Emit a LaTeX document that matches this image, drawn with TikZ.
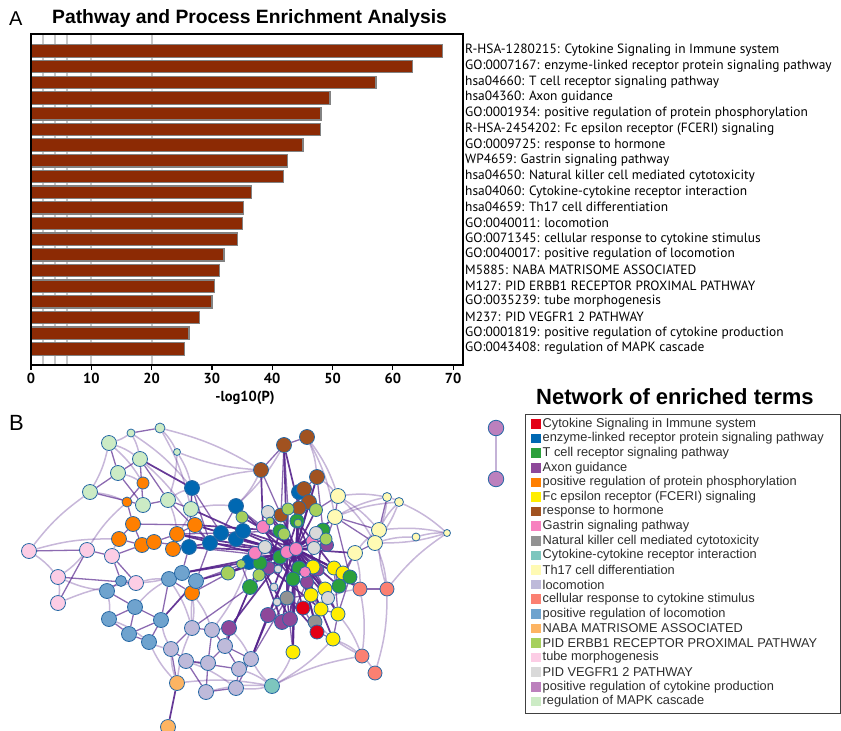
\documentclass[tikz,border=0pt]{standalone}
\usepackage{fontspec}
\setmainfont{Liberation Sans}
\newfontfamily\ptsans{PT Sans}
\pgfdeclarelayer{edgelayer}
\pgfsetlayers{edgelayer,main}
\definecolor{cRed}{RGB}{227,0,22}
\definecolor{cBlue}{RGB}{0,104,178}
\definecolor{cGreen}{RGB}{44,160,60}
\definecolor{cPurple}{RGB}{142,72,154}
\definecolor{cOrange}{RGB}{255,127,0}
\definecolor{cYellow}{RGB}{255,237,0}
\definecolor{cBrown}{RGB}{161,82,32}
\definecolor{cPink}{RGB}{247,129,191}
\definecolor{cGray}{RGB}{146,146,146}
\definecolor{cTeal}{RGB}{125,198,190}
\definecolor{cLYellow}{RGB}{255,250,180}
\definecolor{cLav}{RGB}{190,186,218}
\definecolor{cSalmon}{RGB}{251,128,114}
\definecolor{cSteel}{RGB}{111,163,206}
\definecolor{cLOrange}{RGB}{253,180,98}
\definecolor{cYG}{RGB}{166,208,92}
\definecolor{cLPink}{RGB}{252,205,229}
\definecolor{cLGray}{RGB}{217,217,217}
\definecolor{cMauve}{RGB}{188,128,189}
\definecolor{cLGreen}{RGB}{204,235,197}
\definecolor{nodeline}{RGB}{40,105,165}
\definecolor{edgec}{RGB}{85,35,140}
\definecolor{barfill}{RGB}{140,42,4}
\definecolor{bargray}{RGB}{130,130,130}
\definecolor{gridgray}{RGB}{200,200,200}
\definecolor{legtext}{RGB}{45,45,45}
\tikzset{
  nd/.style={circle, draw=nodeline, line width=0.8pt, inner sep=0pt},
  ewk/.style={draw=edgec, line width=1.5pt, opacity=0.33},
  emd/.style={draw=edgec, line width=1.3pt, opacity=0.68},
  est/.style={draw=edgec, line width=1.7pt, opacity=0.9},
  barsty/.style={fill=barfill, draw=bargray, line width=1.2pt},
  lab/.style={anchor=west, inner sep=0pt, font=\ptsans\fontsize{13.4}{15}\selectfont},
  ticklab/.style={inner sep=0pt, font=\ptsans\bfseries\fontsize{14.5}{16}\selectfont},
  lsq/.style={rectangle, inner sep=0pt, minimum width=10pt, minimum height=9.5pt},
  ltxt/.style={anchor=west, inner sep=0pt, text=legtext, font=\fontsize{12.8}{14}\selectfont},
}
\newcommand\mkcluster[2]{\foreach \n/\x/\y/\s in {#2} \node[nd, fill=#1, minimum size=\s*1pt] (\n) at (\x,\y) {};}
\newcommand\mkedges[2]{\foreach \a/\b in {#2} \draw[#1] (\a) -- (\b);}
\newcommand\mkcurves[2]{\foreach \a/\b in {#2} \draw[#1] (\a) to[bend left=8] (\b);}
\begin{document}
\begin{tikzpicture}[x=1pt,y=-1pt]
\useasboundingbox (0,0) rectangle (841,731);
% ---------------- Panel A ----------------
\node[anchor=west, inner sep=0pt, font=\fontsize{20}{22}\selectfont] (labA) at (9,19) {A};
\node[anchor=west, inner sep=0pt, font=\bfseries\fontsize{19.3}{22}\selectfont] (titleA) at (52,19) {Pathway and Process Enrichment Analysis};
% grid lines
\foreach \g in {2,4,6,10,20} \draw[gridgray, line width=1.8pt] ({31+\g*6.03},34) -- ({31+\g*6.03},365);
% bars
\foreach \v [count=\i] in {68.3,63.2,57.2,49.6,48.1,48.0,45.1,42.6,41.9,36.6,35.3,35.1,34.3,32.0,31.3,30.4,30.0,28.0,26.2,25.5}{
  \pgfmathsetmacro\yc{51+(\i-1)*15.68}
  \path[barsty] (31,{\yc-6.2}) rectangle ({31+\v*6.03},{\yc+6.2});
}
% frame
\draw[black, line width=1.4pt] (31,34) -- (463,34) -- (463,365) -- (31,365) -- cycle;
\foreach \v in {0,10,...,70}{
  \draw[black, line width=1.2pt] ({31+\v*6.03},365) -- ({31+\v*6.03},369.5);
  \node[ticklab] (tk\v) at ({31+\v*6.03},378) {\v};
}
\node[ticklab] (xlabel) at (245,398) {-log10(P)};
% labels
\foreach \t [count=\i] in {
 {R-HSA-1280215: Cytokine Signaling in Immune system},
 {GO:0007167: enzyme-linked receptor protein signaling pathway},
 {hsa04660: T cell receptor signaling pathway},
 {hsa04360: Axon guidance},
 {GO:0001934: positive regulation of protein phosphorylation},
 {R-HSA-2454202: Fc epsilon receptor (FCERI) signaling},
 {GO:0009725: response to hormone},
 {WP4659: Gastrin signaling pathway},
 {hsa04650: Natural killer cell mediated cytotoxicity},
 {hsa04060: Cytokine-cytokine receptor interaction},
 {hsa04659: Th17 cell differentiation},
 {GO:0040011: locomotion},
 {GO:0071345: cellular response to cytokine stimulus},
 {GO:0040017: positive regulation of locomotion},
 {M5885: NABA MATRISOME ASSOCIATED},
 {M127: PID ERBB1 RECEPTOR PROXIMAL PATHWAY},
 {GO:0035239: tube morphogenesis},
 {M237: PID VEGFR1 2 PATHWAY},
 {GO:0001819: positive regulation of cytokine production},
 {GO:0043408: regulation of MAPK cascade}}{
  \pgfmathsetmacro\yc{50.5+(\i-1)*15.68}
  \node[lab] (lab\i) at (465,\yc) {\t};
}
% ---------------- Panel B ----------------
\node[anchor=west, inner sep=0pt, font=\fontsize{22}{24}\selectfont] (labB) at (9,423) {B};
\node[anchor=west, inner sep=0pt, font=\bfseries\fontsize{22}{24}\selectfont] (titleB) at (536,397) {Network of enriched terms};
% legend box
\node[draw=black!75, line width=1.1pt, anchor=north west, inner sep=0pt, minimum width=315pt, minimum height=299pt] (legbox) at (524.5,413.5) {};
\foreach \c/\t [count=\i] in {
 cRed/Cytokine Signaling in Immune system,
 cBlue/enzyme-linked receptor protein signaling pathway,
 cGreen/T cell receptor signaling pathway,
 cPurple/Axon guidance,
 cOrange/positive regulation of protein phosphorylation,
 cYellow/Fc epsilon receptor (FCERI) signaling,
 cBrown/response to hormone,
 cPink/Gastrin signaling pathway,
 cGray/Natural killer cell mediated cytotoxicity,
 cTeal/Cytokine-cytokine receptor interaction,
 cLYellow/Th17 cell differentiation,
 cLav/locomotion,
 cSalmon/cellular response to cytokine stimulus,
 cSteel/positive regulation of locomotion,
 cLOrange/NABA MATRISOME ASSOCIATED,
 cYG/PID ERBB1 RECEPTOR PROXIMAL PATHWAY,
 cLPink/tube morphogenesis,
 cLGray/PID VEGFR1 2 PATHWAY,
 cMauve/positive regulation of cytokine production,
 cLGreen/regulation of MAPK cascade}{
  \pgfmathsetmacro\yy{424+(\i-1)*14.6}
  \node[lsq, fill=\c] (sq\i) at (535.7,\yy) {};
  \node[ltxt] (lt\i) at (542.5,\yy) {\t};
}
% legend sample pair
\node[nd, fill=cMauve, minimum size=15.5pt] (ex1) at (496,428) {};
\node[nd, fill=cMauve, minimum size=15.5pt] (ex2) at (496,479) {};
\draw[draw=edgec, opacity=0.35, line width=1.3pt] (ex1) -- (ex2);
% ---- network nodes ----
\mkcluster{cLGreen}{mg1/131/433/8, mg2/160/428/10, mg3/109/443/15, mg4/177/452/7, mg5/140/459/15, mg6/118/473/15, mg7/90/492/15, mg8/143/505/15, mg9/168/500/15, mg10/191/509/15}
\mkcluster{cOrange}{or1/143/483/12, or2/127/502/10, or3/133/524/15, or4/119/539/15, or5/142/545/15, or6/154/542/15, or7/177/534/15, or8/173/549/15, or9/195/525/15, or10/192/593/15}
\mkcluster{cBlue}{bl1/192/488/15, bl2/236/506/15, bl3/189/547/15, bl4/210/543/15, bl5/221/533/15, bl6/236/539/15, bl7/243/531/15, bl8/299/492/15, bl9/249/562/15}
\mkcluster{cBrown}{br1/307/437/15, br2/284/445/15, br3/261/470/15, br4/317/477/15, br5/304/489/15, br6/309/502/15, br7/299/508/14, br8/281/515/14}
\mkcluster{cLYellow}{ly1/338/496/15, ly2/335/517/15, ly3/379/530/15, ly4/375/543/15, ly5/355/553/15, ly6/387/497/9, ly7/399/502/9, ly8/416/537/8, ly9/447/533/7}
\mkcluster{cSalmon}{sa1/360/589/14, sa2/387/589/14, sa3/362/656/14, sa4/375/673/14}
\mkcluster{cTeal}{te1/272/686/15}
\mkcluster{cLOrange}{lo1/177/683/15, lo2/168/727/15}
\mkcluster{cLav}{lv1/192/628/15, lv2/212/630/15, lv3/171/649/15, lv4/186/661/15, lv5/208/663/15, lv6/225/646/15, lv7/251/659/15, lv8/239/669/15, lv9/206/692/15, lv10/236/688/15}
\mkcluster{cSteel}{sb1/121/581/11, sb2/107/591/15, sb3/135/607/15, sb4/109/619/15, sb5/129/634/15, sb6/149/642/15, sb7/161/620/15, sb8/169/579/15, sb9/182/573/15, sb10/196/581/15}
\mkcluster{cLPink}{tp1/29/551/15, tp2/87/550/15, tp3/112/556/15, tp4/58/577/15, tp5/58/603/15, tp6/136/583/15}
\mkcluster{cPurple}{ax1/269/568/13, ax2/327/545/13, ax3/307/582/13, ax8/318/570/12, ax4/268/615/15, ax5/282/622/15, ax6/290/619/15, ax7/229/628/15}
\mkcluster{cGray}{gy1/287/598/14, gy2/315/622/14}
\mkcluster{cRed}{rd1/303/608/14, rd2/317/632/14}
\mkcluster{cYellow}{ye1/313/567/14, ye2/334/568/14, ye3/343/573/14, ye4/325/589/14, ye5/311/595/14, ye6/321/609/14, ye7/338/614/14, ye8/333/639/14, ye9/293/652/14}
\mkcluster{cGreen}{gr1/280/531/14, gr2/297/521/14, gr3/323/530/14, gr4/260/563/14, gr5/299/568/14, gr6/293/579/14, gr7/250/587/15, gr8/339/586/14, gr9/350/577/14, gr10/280/557/14}
\mkcluster{cPink}{pk1/263/527/13, pk4/255/553/13, pk5/305/572/11, pk6/312/541/12}
\mkcluster{cLGray}{lg1/268/512/13, lg2/316/533/13, lg3/265/547/13, lg4/314/548/13, lg5/278/569/8, lg6/274/587/8, lg7/277/602/8, lg8/328/598/13}
\mkcluster{cYG}{yg1/242/517/12, yg2/270/521/8, yg3/288/509/12, yg4/316/510/13, yg5/284/534/12, yg6/326/539/12, yg7/298/523/8, yg8/228/573/14, yg9/241/564/9, yg10/259/575/12}
\mkcluster{cPink}{pk2/287/552/13, pk3/296/549/13}
% ---- network edges ----
\begin{pgfonlayer}{edgelayer}
\mkcurves{ewk}{mg1/mg3, mg2/mg4, mg3/mg7, mg1/mg5, mg4/mg9, mg2/mg10, mg3/mg5, mg4/bl1, mg10/bl2, mg9/bl1, br3/mg4, br3/bl2, br1/ly1, br4/ly1, br1/br4, ly1/ly6, ly1/ly3, ly6/ly7, ly3/ly9, ly7/ly9, ly8/ly9, ly4/ly8, ly3/ly7, ly2/ly6, ly7/ly4, sa2/ly3, sa2/ly9, te1/sa3, te1/lv10, lo1/lv3, lo1/sb6, lo1/te1, lv9/te1, tp1/tp4, tp4/tp5, tp5/tp6, tp2/tp4, tp1/or4, tp3/or4, tp2/or2, sb2/sb4, sb1/tp6, sb9/tp6, sa1/sa3, sa3/sa4, ye8/sa3, sa2/sa4, lv1/sb10, lv3/sb7, or10/lv1, bl9/lv2, ax7/lv7, mg6/or1, mg7/or2, ly5/sa1, ly4/sa2, lg8/sa1, ye9/te1, te1/lv7, ye7/sa3, mg2/br3, mg5/or9, ly9/ly4, tp1/mg7, sb8/lv1, lo1/lv1, mg1/bl1, mg3/or1, br2/bl2, br1/ly2, ly1/ly4, ly6/ly3, ly2/ly7, sb4/sb6, sb2/tp4, tp6/sb8, lv3/sb6, lv8/te1, or10/lv2, ye8/te1, sa3/gy2, mg9/or7, bl1/br3, mg10/or7, ly5/ly3, sb3/sb8, lv4/lv10}
\mkedges{emd}{mg1/mg2, mg3/mg6, mg5/mg6, mg6/mg7, mg5/mg8, mg6/mg8, mg7/mg8, mg8/mg9, mg9/mg10, mg5/mg9, mg10/bl1, or1/or2, or2/or3, or3/or4, or3/or5, or4/or5, or5/or6, or6/or7, or7/or8, or7/or9, or3/or9, or8/bl3, or9/bl4, or6/bl3, or5/tp3, or7/bl5, bl1/bl3, bl1/bl4, bl2/bl5, bl2/bl7, bl3/bl4, bl4/bl5, bl5/bl6, bl6/bl7, bl1/bl5, br1/br2, br2/br3, br2/br8, br3/br8, br4/br6, br4/br5, br5/br6, br6/br7, br7/br8, br2/yg3, ly1/ly2, ly2/ly3, ly2/ly4, ly4/ly5, ly3/ly6, ly2/yg6, ly5/ye3, tp1/tp2, tp2/tp3, tp3/tp6, tp4/tp6, tp2/tp5, tp3/sb1, sb1/sb2, sb2/sb3, sb3/sb4, sb3/sb5, sb4/sb5, sb5/sb6, sb6/sb7, sb7/sb3, sb7/sb8, sb8/sb9, sb9/sb10, sb8/or10, sb10/or10, sb9/bl3, sb10/bl4, sb5/sb7, lv1/lv2, lv1/lv3, lv2/lv6, lv3/lv4, lv4/lv5, lv5/lv6, lv6/lv7, lv7/lv8, lv8/lv10, lv5/lv9, lv9/lv10, lv4/lv9, lv2/lv5, lv6/lv8, lv4/lv8, lv3/lo1, lv2/ax7, lv6/ax7, ye1/ye2, ye2/ye3, ye4/ye5, ye5/ye6, ye6/ye7, ye7/ye8, ye4/ye7, ye6/rd2, rd1/gy1, rd1/ye5, rd2/ye8, gy2/rd2, ye3/sa1, sa1/sa2, ax4/ax5, ax5/ax6, ax3/ax6, gy1/ax6, gr8/gr9, gr8/ye2, mg10/or9, bl7/yg1, lv7/lv10, bl2/pk1, bl5/gr1, or9/bl5, mg9/bl4, or8/bl4, bl3/gr10, br4/gr3, ly2/gr9, ly5/gr8, ly1/yg4, ye1/ye4, ye2/ye7, gr9/ye7, rd1/rd2, gy1/ye5, yg8/gr4, yg9/gr7, yg10/gr7, lv6/gr7, lv7/gy1, ax4/gy1, ye9/gy1, sb10/bl9, or10/bl9, lv1/gr7}
\mkedges{est}{pk2/gr1, pk2/gr2, pk2/yg5, pk2/lg3, pk2/pk4, pk2/gr10, pk2/ax1, pk2/ye1, pk2/gr5, pk2/ax2, pk2/gr3, pk2/lg2, pk2/yg3, pk2/gr4, pk2/bl6, pk2/ye4, pk2/gy1, pk2/rd1, pk3/gr6, pk3/ye2, pk3/ax3, pk3/ye5, pk3/lg4, pk3/yg6, pk3/gr8, pk3/gr9, pk3/yg4, pk3/br7, pk3/br6, pk3/bl8, pk3/pk1, pk3/yg1, pk3/bl7, pk3/gr7, pk3/ax4, pk3/ax5, pk3/ax6, pk3/ye6, pk3/gy2, pk3/rd2, pk3/ye7, pk3/ye9, pk3/ye3, pk3/lg1, pk3/yg9, pk3/yg10, pk3/yg8, pk2/bl9, pk2/bl4, pk2/or9, pk2/mg10, pk3/br8, pk2/lg8, pk3/ye8, pk2/ax7, pk3/lv7, pk2/sb9, pk2/lg5, pk2/lg6, pk3/ly5, pk3/ly2, br2/br7, gr7/lv6, sb9/bl9, or9/gr1, br3/pk1, lv7/ax4, sb7/sb10, sb10/gr10, lo2/lo1, gr7/gr4, mg5/bl1, or7/pk4, pk2/bl5, pk2/bl3, pk3/br5, pk3/br4, pk2/br2, pk3/ye4, pk2/ax3, pk3/sa1, pk2/bl2, pk2/or7, pk3/gr3, pk2/yg10, gr1/ye1, gr2/ye2, gr10/ye5, yg5/ax3, lg3/gr6, gr1/gr5, gr2/gr5, gr10/gr6, gr1/ax1, pk1/gr10, lg1/gr5, gr2/ax8, gr3/ax8, gy1/rd2, ye9/gr6, ax1/ye6, gr4/ax5, pk4/ax6}
\end{pgfonlayer}
\end{tikzpicture}
\end{document}
